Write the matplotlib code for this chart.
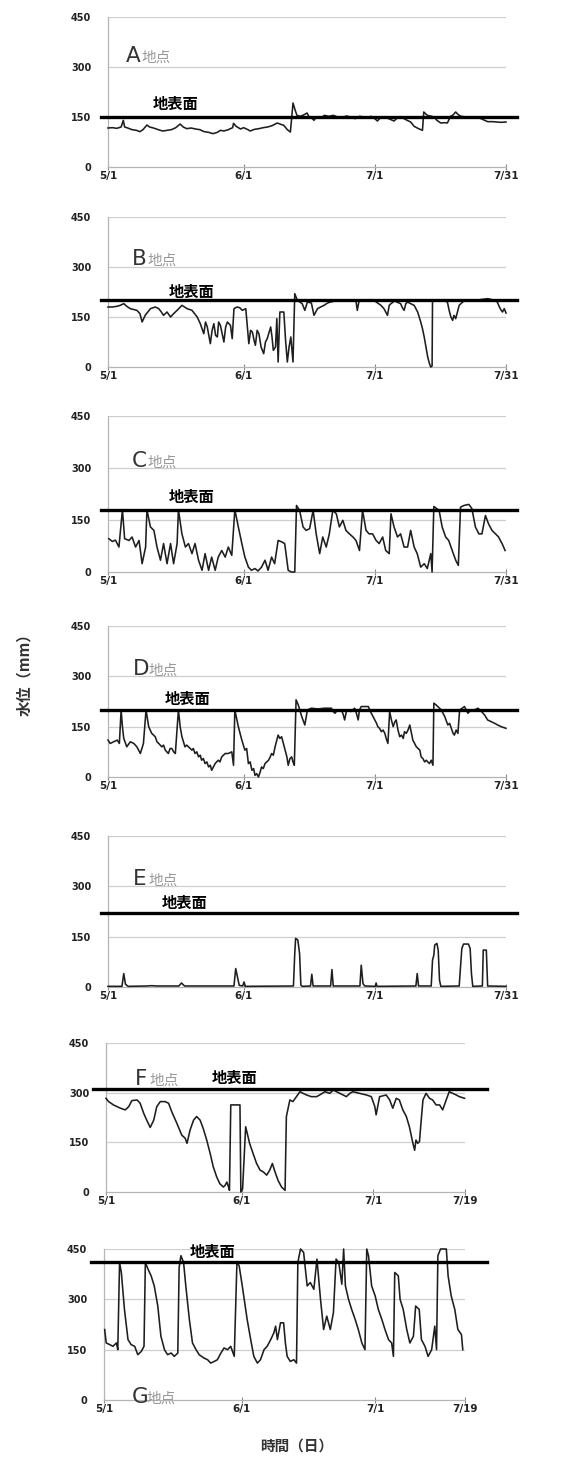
import numpy as np
import matplotlib.pyplot as plt

plt.rcParams['font.family'] = ['Noto Sans CJK JP', 'DejaVu Sans']

# water level (mm), day 0 = 5/1
a_day = [0, 1, 2, 3, 3.5, 3.8, 4.5, 5.5, 6.5, 7.3, 8, 8.9, 9.5, 10.4, 11.5, 12.5, 13.5, 14.5, 15.5, 16.5,
         17.2, 18, 19, 20, 21, 22, 23, 24, 25, 25.7, 26.5, 27.5, 28.5, 28.7, 29.3, 30.3, 31, 32, 32.5, 33.5,
         34.5, 35.5, 36.5, 37.5, 38.7, 39.5, 40.2, 41, 41.7, 42.3, 42.8, 43.2, 44, 45, 45.5, 46, 46.5, 47.1,
         47.6, 48.6, 49.5, 50.5, 51.5, 52.5, 53.5, 54.5, 55.5, 56.5, 57.5, 58.5, 59.3, 60.2, 61, 61.6, 62.3,
         63.1, 64, 65.4, 66.2, 66.9, 67.7, 68.4, 69.2, 70, 71, 71.9, 72.2, 72.6, 73, 74, 74.6, 75.2, 76.1, 77,
         77.6, 78.3, 78.8, 79.5, 80, 80.7, 82, 83.7, 84.5, 85.3, 86.8, 88, 89.8, 91]
a_val = [117, 118, 116, 120, 140, 120, 117, 112, 110, 106, 112, 126, 120, 117, 112, 108, 110, 112, 118, 129,
         120, 115, 117, 114, 112, 106, 104, 100, 104, 110, 108, 112, 118, 131, 122, 114, 118, 112, 108, 113,
         115, 118, 120, 124, 132, 128, 125, 112, 105, 192, 170, 155, 152, 158, 162, 150, 148, 140,
         150, 147, 155, 152, 155, 150, 148, 153, 150, 145, 152, 150, 147, 152, 145, 138, 148,
         150, 146, 138, 148, 150, 145, 140, 135, 122, 115, 110, 165, 160, 155, 152, 150, 140, 132, 133,
         132, 152, 155, 165, 158, 152, 150, 150, 148, 145, 136, 136, 134, 135]

b_day = [0, 1, 2, 2.8, 3.6, 4.3, 5.1, 6.6, 7.3, 7.8, 8.5, 9.7, 10.8, 11.6, 12.2, 12.7, 13.5, 14.3, 15, 15.8,
         16.9, 18.1, 19.2, 20.4, 21.1, 21.9, 22.3, 22.7, 23.4, 23.8, 24.2, 24.6, 25, 25.3, 25.7, 26.1, 26.5,
         26.9, 27.3, 28, 28.4, 28.8, 29.5, 30.1, 30.7, 31.5, 32.2, 32.6, 33, 33.4, 33.7, 34.1, 34.5, 35, 35.6,
         36, 36.4, 37.2, 37.5, 37.8, 38.3, 38.6, 38.9, 39.3, 40.2, 40.6, 41, 41.4, 41.8, 42.3, 42.7, 43.3,
         44.4, 45, 45.6, 46.5, 47.1, 47.9, 48.6, 49.4, 50.2, 50.9, 52, 54, 56, 56.7, 57, 57.4, 59, 61, 62.4,
         63.1, 63.9, 64.3, 64.7, 65.5, 66.9, 67.3, 67.7, 68.1, 68.5, 69.2, 70, 70.4, 70.8, 71.5, 71.9, 72.3,
         72.7, 73.1, 73.5, 73.8, 74.1, 74.2, 75, 76, 77, 77.6, 78, 78.4, 78.8, 79.1, 79.5, 80, 80.3, 81.5, 84,
         86.8, 87.5, 88.3, 89, 89.5, 89.9, 90.2, 90.6, 91]
b_val = [180, 180, 182, 185, 190, 182, 175, 170, 160, 135, 155, 175, 180, 175, 165, 155, 165, 150, 160, 170,
         185, 175, 170, 150, 130, 100, 135, 120, 70, 110, 130, 95, 90, 135, 125, 100, 75,
         120, 135, 125, 85, 175, 180, 178, 170, 175, 70, 110, 105, 80, 65, 110, 100, 60, 40,
         75, 85, 120, 90, 50, 60, 145, 15, 165, 165, 80, 15, 60, 90, 15, 220, 200,
         190, 170, 195, 192, 155, 175, 180, 185, 192, 195, 198, 198, 200, 197, 170, 198, 200, 198, 185,
         175, 155, 185, 190, 198, 190, 178, 170, 190, 195, 190, 185, 175, 165, 135, 115, 90,
         60, 30, 10, 0, 3, 200, 200, 198, 198, 195, 170, 150, 140, 155, 145, 170, 185, 200, 200,
         205, 203, 200, 195, 180, 170, 165, 175, 162]

c_day = [0.2, 1, 1.7, 2.5, 3.3, 3.8, 4.8, 5.5, 6.3, 7.1, 7.8, 8.6, 8.9, 9.7, 10.5, 11.2, 12, 12.7, 13.5,
         14.3, 15, 15.8, 16.1, 16.9, 17.7, 18.4, 19.2, 19.9, 20.7, 21.5, 22.2, 23, 23.7, 24.5, 25.2, 26,
         26.8, 27.5, 28.3, 29, 29.8, 30.6, 31.3, 32.1, 32.8, 33.6, 34.3, 35.1, 35.9, 36.6, 37.4, 38.1, 38.9,
         39.7, 40.4, 41.2, 41.9, 42.7, 43.1, 43.8, 44.6, 45.3, 46.1, 46.9, 47.6, 48.4, 49.1, 49.9, 50.6,
         51.4, 52.2, 52.9, 53.7, 54.4, 55.2, 56, 56.7, 57.5, 58.2, 59, 59.7, 60.5, 61.3, 62, 62.8, 63.5,
         64.3, 64.7, 65.4, 66.2, 66.9, 67.7, 68.5, 69.2, 70, 70.7, 71.5, 72.3, 73, 73.8, 74.1, 74.5, 75.7,
         76.4, 77.2, 77.9, 78.7, 79.5, 80.1, 80.6, 81.4, 82.5, 83.2, 84, 84.8, 85.5, 86.3, 87, 87.8, 88.6,
         89.3, 90.1, 90.8]
c_val = [96, 88, 92, 72, 180, 96, 91, 101, 72, 91, 24, 72, 180, 130, 120, 72, 34, 82, 24,
         82, 24, 82, 180, 110, 72, 82, 53, 82, 34, 5, 53, 5, 43, 5, 43, 62,
         43, 72, 48, 180, 130, 82, 43, 14, 5, 10, 3, 14, 34, 5, 43, 24, 91,
         87, 82, 5, 0, 0, 192, 178, 130, 120, 125, 178, 110, 53, 101, 72, 110,
         178, 168, 130, 149, 120, 110, 101, 91, 62, 178, 120, 110, 110, 91, 82, 101, 62,
         53, 168, 130, 101, 110, 72, 72, 120, 72, 53, 14, 24, 10, 53, 0, 189, 178,
         130, 101, 91, 62, 34, 19, 187, 192, 195, 183, 130, 110, 110, 163, 139, 120, 110,
         101, 82, 62]

d_day = [0, 0.5, 1.3, 2.1, 2.6, 3, 3.3, 3.6, 4.3, 5.1, 5.9, 6.6, 7.4, 8.1, 8.7, 9.3, 10, 10.8, 11.2, 11.6,
         12.3, 12.7, 13.1, 13.8, 14.2, 14.6, 15, 15.4, 16.1, 16.5, 16.9, 17.6, 18, 18.4, 19.2, 19.5, 19.9,
         20.3, 20.7, 21.1, 21.4, 21.8, 22.2, 22.6, 23, 23.4, 23.7, 24.1, 24.5, 25.2, 25.6, 26, 26.8, 27.5,
         28.3, 28.7, 29, 29.8, 30.6, 31.3, 31.7, 32.1, 32.5, 32.9, 33.3, 33.6, 34, 34.4, 34.8, 35.1, 35.5,
         35.9, 36.3, 36.7, 37.1, 37.4, 37.8, 38.2, 38.9, 39.3, 39.7, 40.1, 40.5, 40.9, 41.2, 41.6, 42, 42.3,
         42.6, 43, 43.5, 44.3, 45, 45.6, 46.5, 48, 49.5, 51.1, 51.5, 51.9, 52.5, 53.4, 53.8, 54.1, 54.5,
         54.9, 55.5, 56.4, 56.8, 57.2, 57.5, 57.9, 58.7, 59.5, 60.2, 61, 61.4, 61.7, 62.1, 62.5, 62.9, 63.3,
         63.6, 64, 64.4, 64.8, 65.2, 65.6, 65.9, 66.3, 66.7, 67.1, 67.5, 67.8, 68.2, 68.6, 69, 69.4, 69.7,
         70.1, 70.5, 70.9, 71.3, 71.6, 72, 72.4, 72.8, 73.1, 73.5, 73.9, 74.3, 74.5, 75, 75.4, 76.2, 77,
         77.7, 78.1, 78.5, 78.9, 79.2, 79.6, 80, 80.4, 81, 81.5, 82.3, 83, 83.8, 84.6, 85.4, 86.1, 86.8,
         87.6, 88.4, 89.1, 89.9, 91]
d_val = [110, 100, 105, 110, 100, 200, 150, 115, 90, 105, 100, 90, 70, 100, 200, 150, 130, 120, 105, 100,
         90, 95, 80, 70, 85, 85, 75, 70, 200, 150, 120, 90, 95, 90, 80, 85, 70,
         75, 60, 65, 50, 55, 40, 45, 30, 35, 20, 30, 40, 50, 45, 60, 70, 70,
         75, 35, 200, 150, 110, 80, 85, 40, 45, 20, 25, 5, 10, 0, 15, 30, 25,
         40, 45, 50, 60, 70, 65, 90, 125, 115, 120, 100, 80, 60, 35, 55, 60, 45,
         35, 230, 215, 180, 155, 200, 205, 203, 205, 205, 195, 190, 200, 200, 185, 170, 195,
         200, 195, 205, 190, 170, 200, 210, 210, 210, 190, 170, 160, 150, 145, 135, 140, 130,
         115, 100, 195, 170, 150, 165, 170, 140, 120, 125, 115, 135, 130, 140, 155, 130, 110,
         100, 90, 85, 80, 60, 55, 45, 50, 45, 40, 50, 35, 220, 215, 210, 200, 180,
         155, 160, 145, 130, 125, 140, 130, 200, 205, 210, 190, 200, 200, 205, 195, 185, 170,
         165, 160, 155, 150, 145]

e_day = [0, 3.2, 3.6, 4.0, 4.6, 9, 10, 11, 16.2, 16.8, 17.5, 28.8, 29.2, 29.6, 30, 30.8, 31.1, 31.4, 42.4,
         42.7, 42.9, 43.4, 43.8, 44.1, 44.5, 46.3, 46.6, 46.9, 50.9, 51.2, 51.5, 57.6, 57.9, 58.3, 58.7,
         61.1, 61.3, 61.5, 70.4, 70.7, 71.0, 73.9, 74.2, 74.5, 74.7, 75.2, 75.5, 75.8, 76.1, 80.3, 80.6,
         80.9, 81.3, 82.4, 82.8, 83.1, 83.4, 85.6, 85.8, 86.5, 86.8, 91]
e_val = [2, 2, 40, 8, 2, 3, 4, 3, 3, 12, 3, 3, 55, 30, 5, 3, 15, 2, 3,
         100, 145, 140, 100, 5, 2, 3, 38, 3, 3, 52, 3, 3, 65, 10, 3,
         2, 12, 2, 3, 40, 3, 3, 80, 95, 125, 130, 110, 20, 2, 3, 60,
         115, 128, 128, 115, 40, 2, 3, 110, 110, 3, 2]

f_day = [0, 0.6, 1.7, 2.5, 3.3, 4.4, 5.2, 5.9, 7.1, 7.8, 8.6, 9.3, 10.1, 10.9, 11.6, 12.4, 13.5, 14.3, 15,
         16.2, 17.3, 18.1, 18.5, 19.2, 20, 20.7, 21.5, 22.2, 23, 23.8, 24.5, 25.3, 26, 26.8, 27.2, 27.6, 28,
         28.2, 28.5, 29.5, 30.6, 30.8, 31.2, 31.9, 32.3, 32.8, 33.6, 34.4, 35.2, 35.9, 36.7, 37.4, 38, 38.6,
         39.3, 40.1, 40.9, 41.2, 42, 42.7, 43.5, 44.3, 45, 45.8, 46.9, 48.1, 48.8, 50, 51.1, 51.9, 53.4,
         54.9, 55.7, 56.4, 57.9, 59.5, 60.6, 61.4, 61.7, 62.5, 64, 64.8, 65.5, 66.3, 67, 67.8, 68.6, 69.3,
         70.1, 70.5, 70.8, 71.2, 71.6, 72, 72.4, 73.1, 73.9, 74.6, 75.4, 76.2, 76.9, 77.7, 78.4, 79.2, 80,
         80.7, 81.9]
f_val = [283, 273, 263, 258, 253, 248, 258, 276, 278, 268, 238, 217, 195, 217, 258, 273, 273, 268, 243,
         207, 172, 162, 147, 187, 217, 228, 217, 192, 157, 116, 76, 45, 25, 15, 20, 30, 15,
         5, 263, 263, 263, 0, 10, 197, 175, 147, 116, 86, 66, 61, 51, 66, 86, 61,
         35, 15, 5, 228, 278, 273, 288, 303, 298, 293, 288, 288, 293, 303, 298, 308, 298,
         288, 298, 303, 298, 293, 288, 258, 233, 288, 293, 278, 253, 283, 278, 248, 228, 197,
         147, 126, 157, 147, 152, 217, 278, 298, 283, 278, 263, 263, 248, 278, 303, 298, 293,
         288, 283]

g_day = [0.15, 0.5, 1.3, 2, 2.8, 3.1, 3.5, 3.9, 4.6, 5.4, 6.1, 6.9, 7.6, 8.4, 9, 9.3, 9.9, 10.6, 11.3, 12.1,
         12.8, 13.6, 14.3, 15.1, 15.8, 16.6, 16.9, 17.3, 17.9, 18.4, 19.2, 19.9, 20.7, 21.4, 22.5, 23.3, 24,
         24.8, 25.5, 26.3, 27, 27.8, 28.5, 29.3, 29.9, 30.4, 31.1, 32.2, 33, 33.7, 34.5, 35.2, 36, 36.7,
         37.5, 38.2, 38.6, 39, 39.7, 40.4, 40.8, 41.2, 41.9, 42.7, 43.3, 43.6, 44.2, 44.9, 45.7, 46.4, 47.2,
         47.9, 48.7, 49.4, 50.1, 50.9, 51.6, 52.2, 52.8, 53.5, 53.9, 54.3, 55, 55.7, 56.5, 57.2, 58, 58.7,
         59.1, 59.5, 60.2, 61, 61.7, 62.5, 63.2, 64, 64.7, 65.1, 65.4, 66.2, 66.6, 67.3, 68.1, 68.8, 69.6,
         70.1, 70.9, 71.4, 72.2, 72.9, 73.7, 74.4, 74.8, 75.1, 75.7, 76.3, 77, 77.4, 78.1, 78.9, 79.6, 80.4,
         80.7]
g_val = [210, 170, 165, 160, 170, 150, 410, 380, 270, 180, 165, 160, 135, 145, 160, 410, 390, 370, 340, 280,
         190, 150, 135, 140, 130, 140, 395, 430, 410, 340, 240, 170, 150, 135, 125, 120, 110,
         115, 120, 140, 155, 150, 160, 130, 410, 400, 340, 240, 180, 130, 110, 120, 150, 160,
         180, 200, 220, 180, 230, 230, 170, 130, 115, 120, 110, 410, 450, 440, 340, 350, 330,
         420, 300, 210, 250, 210, 260, 420, 410, 345, 450, 340, 300, 270, 240, 210, 170, 150,
         450, 430, 340, 310, 270, 240, 210, 180, 170, 130, 380, 370, 300, 270, 210, 170, 190,
         280, 270, 180, 160, 130, 150, 220, 150, 430, 450, 450, 450, 370, 310, 270, 210, 195,
         150]

site_names = ['A', 'B', 'C', 'D', 'E', 'F', 'G']
ground = [150, 200, 180, 200, 220, 310, 410]
x_end = [91, 91, 91, 91, 91, 82, 81.2]
end_label = ['7/31', '7/31', '7/31', '7/31', '7/31', '7/19', '7/19']
y_ticks = [0, 150, 300, 450]

series = [(a_day, a_val), (b_day, b_val), (c_day, c_val), (d_day, d_val),
          (e_day, e_val), (f_day, f_val), (g_day, g_val)]

W, H = 588, 1458
# axes boxes in pixels: left, right, top, bottom
boxes = [(108, 506, 17, 167), (108, 506, 217, 367), (108, 506, 416, 572), (108, 506, 626, 777),
         (108, 506, 836, 987), (106, 465, 1043, 1192), (104, 465, 1249, 1400)]
# site label (x, baseline y) and ground label centre, axes fractions
name_pos = [(0.045, 0.70), (0.06, 0.68), (0.06, 0.673), (0.063, 0.675), (0.063, 0.675),
            (0.081, 0.718), (0.078, -0.02)]
surf_pos = [(0.171, 0.42), (0.209, 0.50), (0.209, 0.48), (0.201, 0.517), (0.193, 0.556),
            (0.357, 0.765), (0.302, 0.98)]

fig = plt.figure(figsize=(W / 100, H / 100), dpi=100)
for i in range(7):
    l, r, t, b = boxes[i]
    ax = fig.add_axes([l / W, 1 - b / H, (r - l) / W, (b - t) / H])
    xmax = x_end[i]
    ax.set_xlim(0, xmax)
    ax.set_ylim(0, 450)
    for yv in y_ticks[1:]:
        ax.axhline(yv, color='#cfcfcf', lw=0.9, zorder=0)
    for s in ['top', 'right']:
        ax.spines[s].set_visible(False)
    for s in ['left', 'bottom']:
        ax.spines[s].set_color('#b5b5b5')
        ax.spines[s].set_linewidth(0.9)
    ax.set_yticks(y_ticks)
    ax.set_yticklabels([str(v) for v in y_ticks])
    ax.set_xticks([0, 31, 61, xmax])
    ax.set_xticklabels(['5/1', '6/1', '7/1', end_label[i]])
    ax.tick_params(axis='y', length=0, pad=12, labelsize=7, labelcolor='#222')
    ax.tick_params(axis='x', length=4, direction='inout', color='#888', pad=1,
                   labelsize=7.5, labelcolor='#222')
    for lab in ax.get_xticklabels() + ax.get_yticklabels():
        lab.set_fontweight('bold')
        lab.set_family('DejaVu Sans')

    d, v = series[i]
    ax.plot(d, v, color='#1e1e1e', lw=1.15, clip_on=False, zorder=3)
    gx = [-1.5, xmax + 2.5] if i < 5 else [-3, xmax + 5]
    ax.plot(gx, [ground[i], ground[i]], color='black', lw=2.4, clip_on=False, zorder=4)

    nx, ny = name_pos[i]
    ax.text(nx, ny, site_names[i], transform=ax.transAxes, fontsize=15.5, color='#333',
            family='DejaVu Sans', va='baseline', ha='left')
    ax.text(nx + 0.04, ny, '地点', transform=ax.transAxes, fontsize=10.5, color='#999',
            va='baseline', ha='left')
    sx, sy = surf_pos[i]
    ax.text(sx, sy, '地表面', transform=ax.transAxes, fontsize=11, fontweight='bold',
            color='black', ha='center', va='center')

fig.text(24 / W, 1 - 671 / H, '水位（mm）', rotation=90, ha='center', va='center',
         fontsize=11, fontweight='bold', color='#333')
fig.text(297 / W, 1 - 1446 / H, '時間（日）', ha='center', va='center',
         fontsize=10.5, fontweight='bold', color='#333')

fig.savefig('out.png', dpi=100, facecolor='white')
